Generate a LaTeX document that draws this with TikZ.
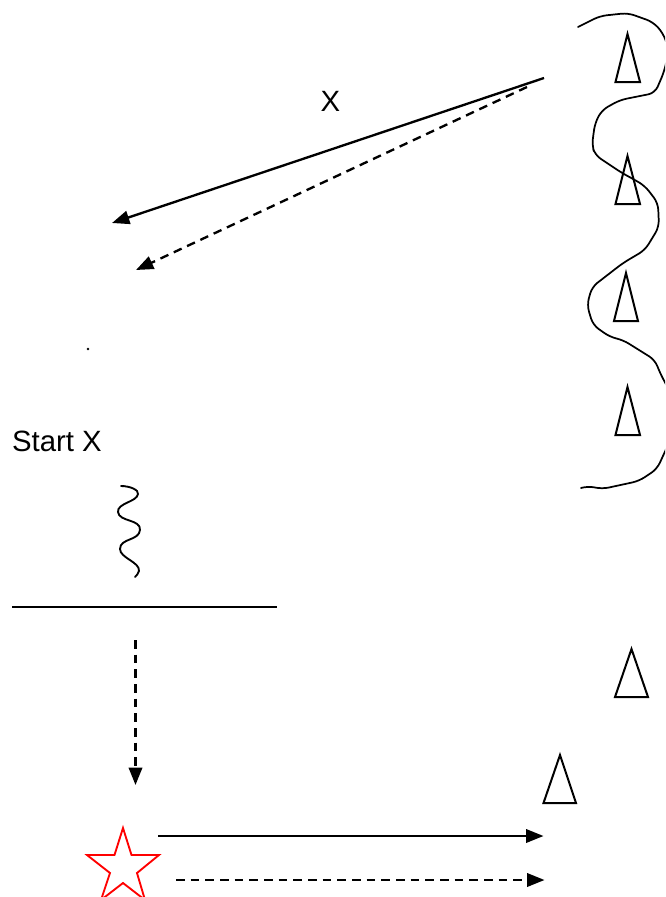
\documentclass[tikz,border=0pt]{standalone}
\usepackage{fontspec}
\setmainfont{Liberation Sans}
\usetikzlibrary{arrows.meta}
\tikzset{
  arrowline/.style={line width=1.75pt,-{Triangle[length=13pt,width=10pt]}},
  dashline/.style={arrowline,dash pattern=on 6.5pt off 4.5pt},
  cone/.style={line width=1.5pt,line join=miter},
  squiggle/.style={line width=1.3pt,rounded corners=5pt,line join=round,line cap=round},
  txt/.style={font=\fontsize{22}{26}\selectfont,inner sep=0pt},
}
\begin{document}
\begin{tikzpicture}[x=0.75pt,y=-0.75pt]
\useasboundingbox (0,0) rectangle (665,897);
\clip (0,0) rectangle (665,897);
% boundary curve
\draw[squiggle] (578,27) -- (600,16) -- (628,13) -- (653,22) -- (663,33) -- (669,50) -- (664,72) -- (655,93) -- (620,100) -- (602,110) -- (595,123) -- (592,145) -- (595,155) -- (622,173) -- (635,180) -- (645,186) -- (658,203) -- (659,227) -- (645,250) -- (623,263) -- (592,287) -- (587,305) -- (593,325) -- (610,337) -- (623,340) -- (655,360) -- (660,373) -- (668,388) -- (672,415) -- (668,445) -- (657,469) -- (639,481) -- (602,489) -- (588,486) -- (581,488);
% cones
\draw[cone] (627.5,34) -- (640,82) -- (615.5,82) -- cycle;
\draw[cone] (627.5,156) -- (640,204) -- (615.5,204) -- cycle;
\draw[cone] (626,273) -- (638,321) -- (614,321) -- cycle;
\draw[cone] (627.5,387) -- (640,435) -- (615.5,435) -- cycle;
\draw[cone] (631.5,649) -- (648,697) -- (615,697) -- cycle;
\draw[cone] (560,755) -- (576,803) -- (543.5,803) -- cycle;
% labels
\node[txt] (xlabel) at (330.5,101) {X};
\node[txt] (startlabel) at (57,441) {Start X};
% upper arrows
\coordinate (a1s) at (544,78);
\coordinate (a1e) at (112,223);
\coordinate (a2s) at (527,87);
\coordinate (a2e) at (136,270);
\draw[arrowline] (a1s) -- (a1e);
\draw[dashline] (a2s) -- (a2e);
% dot
\fill (88,349) circle (1.3);
% wavy line
\draw[line width=1.4pt,line cap=round] (121,486) .. controls (130,486) and (139,490) .. (138,494) .. controls (137,502) and (117,503) .. (118,512) .. controls (119,522) and (141,519) .. (140,530) .. controls (139,541) and (120,538) .. (120,549) .. controls (120,558) and (140,562) .. (139,571) .. controls (138,574) and (137,575) .. (135,577);
% horizontal line
\coordinate (h1) at (12,606.5);
\coordinate (h2) at (276.5,606.5);
\draw[line width=1.5pt] (h1) -- (h2);
% lower arrows
\coordinate (a3s) at (135.5,640);
\coordinate (a3e) at (135.5,785);
\draw[dashline] (a3s) -- (a3e);
\coordinate (a4s) at (158,836);
\coordinate (a4e) at (543.5,836);
\draw[arrowline] (a4s) -- (a4e);
\coordinate (a5s) at (176,880);
\coordinate (a5e) at (544.5,880);
\draw[dashline] (a5s) -- (a5e);
% star
\draw[red,line width=1.4pt,line join=miter] (123,828) -- (131.5,855) -- (159,855) -- (137,873) -- (145,900) -- (123,883) -- (101,900) -- (110,873) -- (87,855) -- (114.5,855) -- cycle;
\end{tikzpicture}
\end{document}
